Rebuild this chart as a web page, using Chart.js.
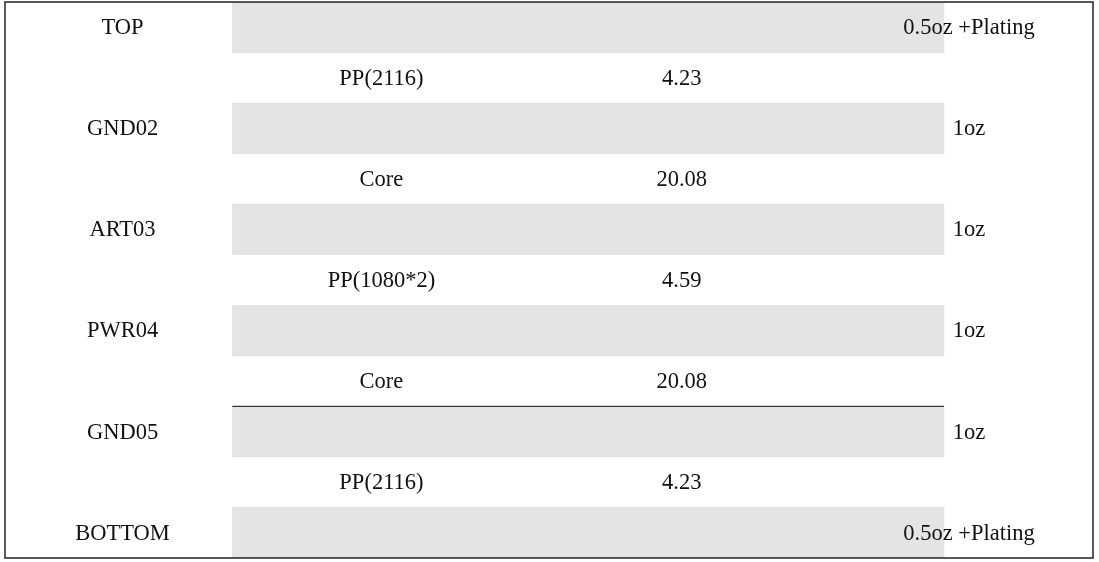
<!DOCTYPE html>
<html>
<head>
<meta charset="utf-8">
<script src="https://cdn.jsdelivr.net/npm/chart.js@4/dist/chart.umd.min.js"></script>
<style>
html,body{margin:0;padding:0;background:#fff;}
#wrap{width:1099px;height:562px;position:relative;}
</style>
</head>
<body>
<div id="wrap"><canvas id="c"></canvas></div>
<script>
// stackup rows, top to bottom
const rowNames  = ["TOP","","GND02","","ART03","","PWR04","","GND05","","BOTTOM"];
const materials = ["","PP(2116)","","Core","","PP(1080*2)","","Core","","PP(2116)",""];
const thickness = ["","4.23","","20.08","","4.59","","20.08","","4.23",""];
const copper    = ["0.5oz +Plating","","1oz","","1oz","","1oz","","1oz","","0.5oz +Plating"];

// column positions on the x scale (0..100)
const COL = { name:10.8, mat:34.6, thick:62.2, cu:88.6, bandFrom:20.9, bandTo:86.3 };

const rowIds = rowNames.map((_, i) => "r" + i);
const bands = rowNames.map((n, i) => n ? [COL.bandFrom, COL.bandTo] : null);

const textPlugin = {
  id: "stackText",
  afterDatasetsDraw(chart){
    const {ctx, chartArea:a, scales:{x, y}} = chart;
    ctx.save();
    ctx.fillStyle = "#111";
    ctx.font = '22.5px "Liberation Serif", serif';
    ctx.textAlign = "center";
    ctx.textBaseline = "middle";
    rowIds.forEach((id, i) => {
      const py = y.getPixelForValue(i) + 1;
      if (rowNames[i]) ctx.fillText(rowNames[i], x.getPixelForValue(COL.name), py);
      if (materials[i]) ctx.fillText(materials[i], x.getPixelForValue(COL.mat), py);
      if (thickness[i]) ctx.fillText(thickness[i], x.getPixelForValue(COL.thick), py);
      if (copper[i]) ctx.fillText(copper[i], x.getPixelForValue(COL.cu), py);
    });
    // line under second core row
    const ly = y.getPixelForValue(7) + (y.getPixelForValue(8) - y.getPixelForValue(7)) / 2;
    ctx.strokeStyle = "#333"; ctx.lineWidth = 1.3;
    ctx.beginPath();
    ctx.moveTo(x.getPixelForValue(COL.bandFrom), ly);
    ctx.lineTo(x.getPixelForValue(COL.bandTo), ly);
    ctx.stroke();
    // outer frame
    ctx.strokeStyle = "#222"; ctx.lineWidth = 1.5;
    ctx.strokeRect(a.left, a.top, a.right - a.left, a.bottom - a.top);
    ctx.restore();
  }
};

new Chart(document.getElementById("c"), {
  type: "bar",
  data: {
    labels: rowIds,
    datasets: [{
      data: bands,
      backgroundColor: "#e4e4e4",
      borderWidth: 0,
      barPercentage: 1,
      categoryPercentage: 1
    }]
  },
  options: {
    indexAxis: "y",
    responsive: true,
    maintainAspectRatio: false,
    animation: false,
    layout: { padding: { left: 5, right: 6, top: 2, bottom: 4 } },
    plugins: { legend: { display: false }, tooltip: { enabled: false } },
    scales: {
      x: { min: 0, max: 100, display: false },
      y: { display: false, offset: true }
    }
  },
  plugins: [textPlugin]
});
</script>
</body>
</html>
